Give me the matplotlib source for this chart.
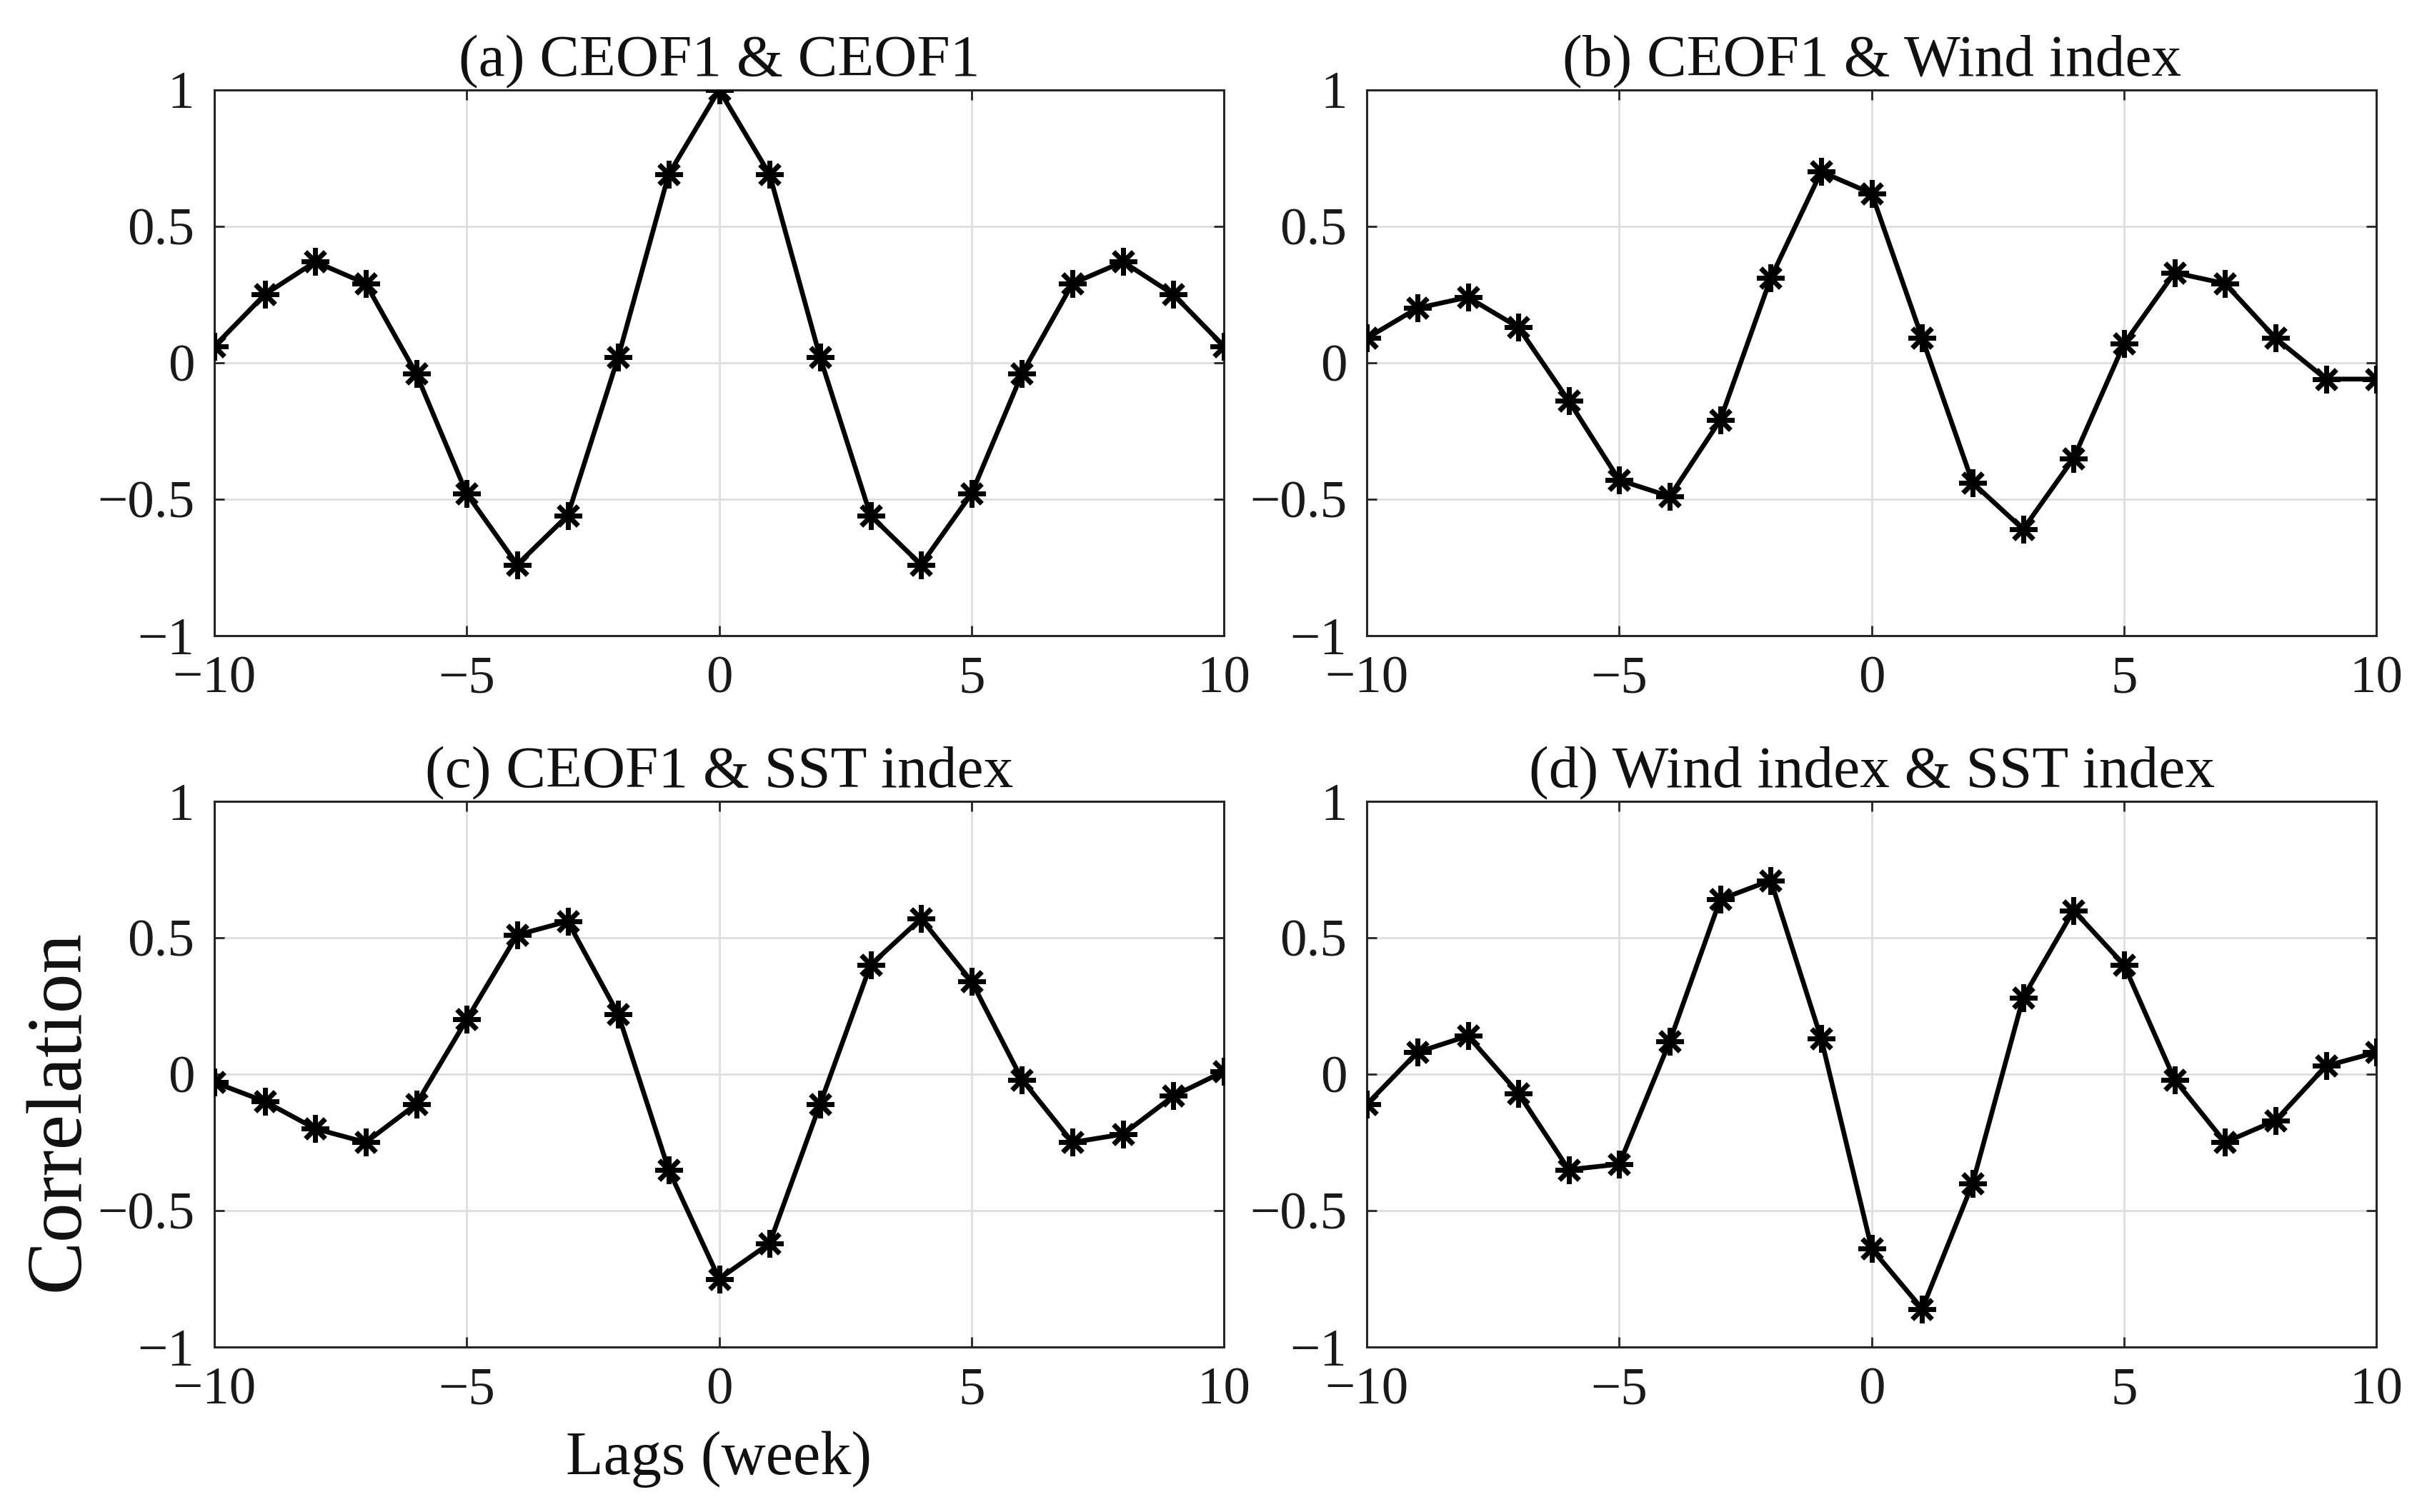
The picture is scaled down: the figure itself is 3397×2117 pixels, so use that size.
import numpy as np
import matplotlib
matplotlib.use("Agg")
import matplotlib.pyplot as plt


plt.rcParams['font.family'] = ['Liberation Serif', 'DejaVu Serif']
plt.rcParams['font.serif'] = ['Liberation Serif', 'DejaVu Serif']

# lags in weeks
lags = list(range(-10, 11))

# (a) CEOF1 & CEOF1
ceof1_ceof1 = [0.06, 0.25, 0.37, 0.29, -0.04, -0.48, -0.74, -0.56, 0.02, 0.69, 1.00,
               0.69, 0.02, -0.56, -0.74, -0.48, -0.04, 0.29, 0.37, 0.25, 0.06]

# (b) CEOF1 & Wind index
ceof1_wind = [0.09, 0.20, 0.24, 0.13, -0.14, -0.43, -0.49, -0.21, 0.31, 0.70, 0.62,
              0.09, -0.44, -0.61, -0.35, 0.07, 0.33, 0.29, 0.09, -0.06, -0.06]

# (c) CEOF1 & SST index
ceof1_sst = [-0.03, -0.10, -0.20, -0.25, -0.11, 0.20, 0.51, 0.56, 0.22, -0.35, -0.75,
             -0.62, -0.11, 0.40, 0.57, 0.34, -0.02, -0.25, -0.22, -0.08, 0.01]

# (d) Wind index & SST index
wind_sst = [-0.11, 0.08, 0.14, -0.07, -0.35, -0.33, 0.12, 0.64, 0.71, 0.13, -0.64,
            -0.86, -0.40, 0.28, 0.60, 0.40, -0.02, -0.25, -0.17, 0.03, 0.08]

titles = ['(a) CEOF1 & CEOF1', '(b) CEOF1 & Wind index',
          '(c) CEOF1 & SST index', '(d) Wind index & SST index']
series = [ceof1_ceof1, ceof1_wind, ceof1_sst, wind_sst]

xticks = [-10, -5, 0, 5, 10]
yticks = [-1, -0.5, 0, 0.5, 1]
xticklabels = ['\u221210', '\u22125', '0', '5', '10']
yticklabels = ['\u22121', '\u22120.5', '0', '0.5', '1']

fig = plt.figure(figsize=(3397/200, 2117/200), dpi=200)

# axes boxes in figure fractions [left, bottom, width, height]
boxes = [[0.0883, 0.5796, 0.4160, 0.3610],
         [0.5632, 0.5796, 0.4160, 0.3610],
         [0.0883, 0.1091, 0.4160, 0.3610],
         [0.5632, 0.1091, 0.4160, 0.3610]]

serif = ['Liberation Serif', 'DejaVu Serif']

for box, title, vals in zip(boxes, titles, series):
    ax = fig.add_axes(box)
    # 8-arm asterisk, like the matlab '*' marker
    ax.plot(lags, vals, color='black', linewidth=2.4,
            marker=(8, 2, 0), markersize=14, markeredgewidth=2.4, zorder=3)
    ax.set_xlim(-10, 10)
    ax.set_ylim(-1, 1)
    ax.set_xticks(xticks)
    ax.set_xticklabels(xticklabels, fontfamily=serif)
    ax.set_yticks(yticks)
    ax.set_yticklabels(yticklabels, fontfamily=serif)
    ax.grid(True, color='#dedede', linewidth=1.0)
    ax.set_axisbelow(True)
    ax.tick_params(direction='in', length=5, width=1.0, top=True, right=True,
                   labelsize=27, colors='#262626', labelcolor='#1a1a1a')
    ax.tick_params(axis='x', pad=10)
    ax.tick_params(axis='y', pad=10)
    for s in ax.spines.values():
        s.set_linewidth(1.1)
        s.set_color('#262626')
    ax.set_title(title, fontsize=30, pad=7, color='#111111', fontfamily=serif)

fig.text(83/3397, 1 - 1555/2117, 'Correlation', rotation=90, fontsize=40,
         ha='center', va='center', color='#111111', fontfamily=serif)
fig.text(1006/3397, 1 - 2043/2117, 'Lags (week)', fontsize=31,
         ha='center', va='center', color='#111111', fontfamily=serif)

fig.savefig('out.png', dpi=200, facecolor='white')
